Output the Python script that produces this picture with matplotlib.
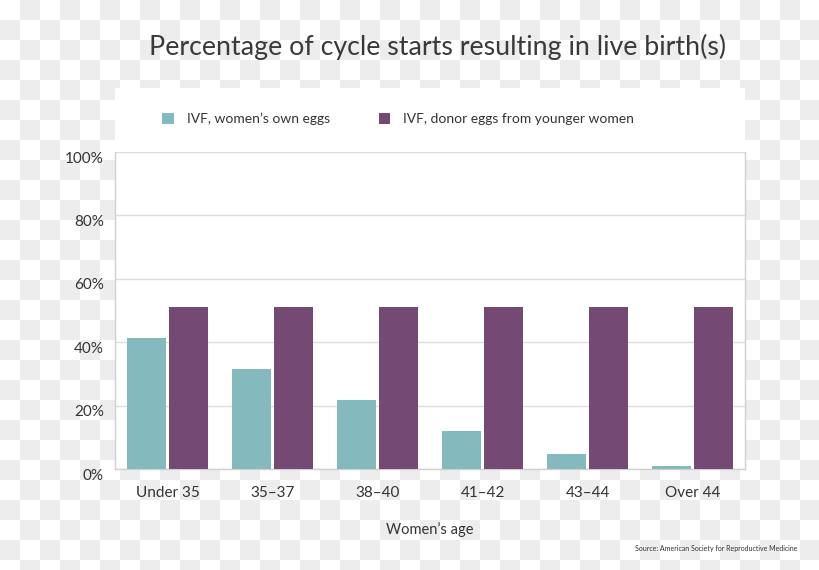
import numpy as np
import matplotlib
matplotlib.use("Agg")
import matplotlib.pyplot as plt
from matplotlib import transforms
from matplotlib.patches import Rectangle

# values
age_groups = ["Under 35", "35\u201337", "38\u201340", "41\u201342", "43\u201344", "Over 44"]
own_eggs = [41.4, 31.5, 21.8, 12.0, 4.7, 0.9]
donor_eggs = [51.0, 51.0, 51.0, 51.0, 51.0, 51.0]
y_ticks = [0, 20, 40, 60, 80, 100]
y_labels = ["0%", "20%", "40%", "60%", "80%", "100%"]

teal = "#84b9bd"
purple = "#744974"
txt = "#333333"

plt.rcParams["font.family"] = ["Lato", "DejaVu Sans"]

W, H = 820, 570
fig = plt.figure(figsize=(W / 100, H / 100), dpi=100)

# transparent-looking checkered background
bg = fig.add_axes([0, 0, 1, 1])
sq = 20
cols, rows = W // sq + 1, H // sq + 1
checker = (np.add.outer(np.arange(rows), np.arange(cols)) % 2).astype(float)
bg.imshow(checker, cmap=matplotlib.colors.ListedColormap(["#ffffff", "#ededed"]),
          extent=(0, cols * sq, rows * sq, 0), interpolation="nearest")
bg.set_xlim(0, W)
bg.set_ylim(H, 0)
bg.axis("off")
# white panel behind legend + plot
bg.add_patch(Rectangle((115, 88), 630, 381, facecolor="white", edgecolor="none"))

ax = fig.add_axes([115 / W, 1 - 469 / H, 630 / W, 317 / H])
x = np.arange(len(age_groups))
bw = 0.362
off = 0.2
b1 = ax.bar(x - off, own_eggs, bw, color=teal, zorder=3, label="IVF, women\u2019s own eggs")
b2 = ax.bar(x + off, donor_eggs, bw, color=purple, zorder=3,
            label="IVF, donor eggs from younger women")

ax.set_xlim(-0.5, len(age_groups) - 0.5)
ax.set_ylim(0, 100)
ax.set_yticks(y_ticks)
ax.set_yticklabels(y_labels, fontsize=11, color=txt)
ax.set_xticks(x)
ax.set_xticklabels(age_groups, fontsize=11, color=txt)
ax.tick_params(axis="both", length=0)
ax.tick_params(axis="y", pad=8)
ax.tick_params(axis="x", pad=12)
shift = transforms.ScaledTranslation(0, -5 / 100, fig.dpi_scale_trans)
for lab in ax.get_yticklabels():
    lab.set_transform(lab.get_transform() + shift)

ax.grid(axis="y", color="#dddddd", lw=1, zorder=0)
for s in ["left", "bottom", "right"]:
    ax.spines[s].set_color("#d0d0d0")
    ax.spines[s].set_linewidth(1)
ax.spines["top"].set_visible(False)

ax.set_xlabel("Women\u2019s age", fontsize=10.5, color=txt, labelpad=16)

fig.text(438 / W, 1 - 47 / H, "Percentage of cycle starts resulting in live birth(s)",
         ha="center", va="center", fontsize=19.3, color="#3a3a3a")

fig.legend(handles=[b1, b2], loc="center left", bbox_to_anchor=(150 / W, 1 - 119 / H),
           ncol=2, frameon=False, fontsize=10, handlelength=0.85, handleheight=0.85,
           handletextpad=0.9, columnspacing=3.5, labelcolor=txt)

fig.text(798 / W, 1 - 548 / H, "Source: American Society for Reproductive Medicine",
         ha="right", va="center", fontsize=5, color=txt)

fig.savefig("out.png", dpi=100)
